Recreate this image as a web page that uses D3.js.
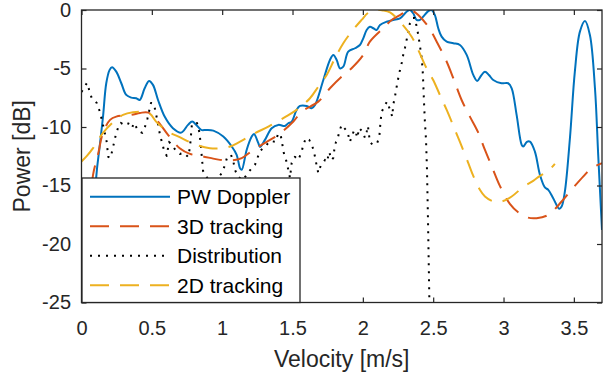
<!DOCTYPE html>
<html>
<head>
<meta charset="utf-8">
<script src="https://cdn.jsdelivr.net/npm/d3@7"></script>
<style>
  html, body { margin: 0; padding: 0; background: #fff; }
  svg { display: block; font-family: "Liberation Sans", Arial, Helvetica, sans-serif; }
</style>
</head>
<body>
<svg id="chart" width="603" height="378"></svg>
<script>
// ---- data ----
const xTicks = [0, 0.5, 1, 1.5, 2, 2.5, 3, 3.5];
const xTickLabels = ["0", "0.5", "1", "1.5", "2", "2.5", "3", "3.5"];
const yTicks = [-25, -20, -15, -10, -5, 0];
const yTickLabels = ["-25", "-20", "-15", "-10", "-5", "0"];
const seriesNames = ["PW Doppler", "3D tracking", "Distribution", "2D tracking"];

const pwX = [0.070,0.105,0.129,0.153,0.176,0.200,0.217,0.247,0.283,0.318,0.354,0.389,0.414,0.449,0.480,0.508,0.544,0.591,0.650,0.709,0.757,0.787,0.816,0.851,0.887,0.937,1.008,1.068,1.103,1.127,1.139,1.174,1.210,1.226,1.257,1.269,1.304,1.352,1.399,1.446,1.470,1.494,1.529,1.553,1.601,1.636,1.660,1.719,1.766,1.790,1.814,1.837,1.861,1.896,1.944,1.979,2.003,2.027,2.050,2.074,2.098,2.122,2.169,2.216,2.264,2.311,2.335,2.358,2.382,2.406,2.429,2.465,2.489,2.512,2.536,2.560,2.596,2.643,2.690,2.738,2.785,2.813,2.839,2.868,2.896,2.927,2.986,3.033,3.058,3.093,3.129,3.140,3.166,3.188,3.223,3.259,3.294,3.318,3.353,3.396,3.413,3.436,3.472,3.507,3.543,3.579,3.614,3.650,3.673,3.700];
const pwY = [-24.0,-14.24,-11.67,-9.11,-6.26,-5.12,-4.89,-5.27,-6.26,-7.26,-7.49,-7.54,-7.69,-6.69,-6.06,-6.40,-7.69,-9.11,-10.10,-10.48,-9.82,-9.54,-9.82,-10.25,-10.25,-10.31,-10.82,-11.67,-12.38,-13.52,-13.66,-11.96,-10.82,-10.59,-11.38,-11.72,-11.10,-10.10,-9.82,-9.91,-9.68,-9.54,-8.54,-8.20,-8.20,-8.39,-8.11,-5.98,-4.27,-3.84,-4.27,-4.98,-4.84,-3.56,-3.27,-2.99,-2.42,-1.71,-1.43,-1.56,-1.71,-1.28,-1.00,-0.85,-0.71,-0.15,0.0,-0.28,-0.85,-0.85,-0.57,-0.09,0.0,-0.43,-1.56,-2.28,-2.71,-2.84,-2.99,-3.84,-5.55,-6.06,-5.64,-5.27,-5.55,-5.98,-6.26,-6.26,-6.69,-8.97,-11.53,-11.67,-11.27,-11.25,-12.10,-14.09,-15.17,-15.37,-16.08,-16.99,-16.80,-15.52,-10.96,-5.27,-1.85,-0.94,-2.13,-6.69,-12.38,-18.8];

const tdX = [0.040,0.082,0.117,0.153,0.203,0.247,0.354,0.416,0.475,0.544,0.615,0.698,0.771,0.842,0.913,0.984,1.070,1.139,1.221,1.340,1.399,1.506,1.565,1.683,1.766,1.849,1.920,2.003,2.050,2.145,2.205,2.264,2.323,2.356,2.394,2.465,2.525,2.596,2.643,2.702,2.761,2.818,2.868,2.918,2.974,3.045,3.104,3.166,3.235,3.318,3.413,3.472,3.566,3.626,3.700];
const tdY = [-20.0,-14.09,-12.38,-10.50,-9.39,-9.11,-8.97,-8.80,-8.77,-9.54,-10.67,-11.81,-12.30,-12.47,-12.64,-12.81,-12.85,-12.66,-11.96,-11.10,-10.67,-9.53,-8.69,-7.83,-6.69,-5.70,-4.98,-3.84,-2.71,-1.56,-0.85,-0.43,-0.04,-0.09,-0.43,-1.43,-2.71,-4.42,-5.83,-7.69,-9.11,-10.42,-11.96,-13.41,-15.03,-16.57,-17.29,-17.72,-17.79,-17.51,-16.37,-15.52,-14.24,-13.52,-13.10];

const distX = [0.000,0.039,0.072,0.108,0.131,0.153,0.179,0.190,0.208,0.219,0.233,0.245,0.262,0.279,0.304,0.321,0.340,0.359,0.373,0.404,0.432,0.451,0.468,0.494,0.515,0.534,0.558,0.586,0.606,0.622,0.643,0.672,0.700,0.729,0.757,0.771,0.785,0.821,0.839,0.849,0.864,0.885,0.928,0.970,0.999,1.020,1.034,1.063,1.080,1.091,1.112,1.148,1.183,1.212,1.233,1.269,1.304,1.340,1.380,1.397,1.414,1.425,1.436,1.458,1.470,1.482,1.494,1.517,1.541,1.565,1.576,1.596,1.619,1.636,1.647,1.660,1.672,1.683,1.700,1.716,1.731,1.745,1.761,1.778,1.790,1.797,1.809,1.819,1.832,1.849,1.880,1.896,1.908,1.920,1.939,1.951,1.960,1.974,1.999,2.015,2.027,2.036,2.050,2.070,2.086,2.102,2.117,2.122,2.127,2.134,2.157,2.173,2.193,2.209,2.216,2.228,2.240,2.252,2.264,2.276,2.287,2.299,2.311,2.323,2.335,2.354,2.370,2.394,2.406,2.418,2.425,2.429,2.434,2.441,2.449,2.456,2.463,2.473];
const distY = [-7.00,-6.23,-7.51,-7.94,-8.71,-9.82,-11.27,-12.55,-12.64,-11.96,-11.27,-10.59,-9.99,-9.65,-9.82,-9.65,-9.74,-10.08,-9.65,-10.33,-10.50,-9.99,-9.31,-7.94,-8.03,-9.14,-10.67,-11.96,-12.47,-11.27,-11.53,-12.04,-12.30,-12.21,-12.55,-11.78,-9.74,-9.65,-10.50,-11.70,-13.75,-14.18,-15.03,-14.35,-13.92,-13.24,-12.64,-12.38,-12.98,-13.66,-14.26,-14.52,-13.92,-13.49,-13.24,-12.04,-11.70,-11.19,-11.27,-10.59,-10.59,-11.27,-12.13,-12.98,-13.66,-14.35,-13.07,-12.55,-12.81,-12.13,-11.53,-10.93,-11.10,-11.53,-11.87,-12.55,-13.32,-13.92,-13.32,-13.15,-12.81,-12.98,-12.13,-12.81,-12.64,-11.96,-11.27,-11.10,-10.42,-9.82,-10.25,-10.67,-11.27,-10.85,-10.25,-10.50,-10.93,-10.08,-10.42,-10.93,-10.42,-9.91,-11.27,-11.53,-11.44,-11.36,-10.85,-10.08,-9.39,-8.71,-8.11,-7.83,-8.54,-9.11,-8.11,-7.43,-6.58,-5.81,-5.12,-4.53,-3.84,-3.25,-2.56,-1.88,-1.11,-0.68,-0.68,-2.13,-3.07,-4.10,-5.12,-6.15,-7.69,-9.56,-11.10,-13.66,-17.93,-24.94];

const twX = [0.000,0.040,0.082,0.153,0.224,0.295,0.366,0.437,0.487,0.532,0.615,0.698,0.816,0.913,1.043,1.127,1.233,1.328,1.446,1.529,1.624,1.683,1.743,1.802,1.861,1.920,1.991,2.036,2.086,2.143,2.193,2.264,2.347,2.394,2.453,2.500,2.560,2.596,2.655,2.690,2.749,2.785,2.832,2.868,2.925,2.986,3.058,3.140,3.211,3.259,3.318,3.365];
const twY = [-12.95,-12.45,-11.81,-10.50,-9.60,-8.97,-8.74,-8.71,-8.88,-9.56,-10.39,-10.87,-11.53,-11.81,-11.72,-11.25,-10.53,-9.97,-9.16,-8.54,-7.54,-6.55,-5.55,-4.12,-2.84,-1.85,-0.85,-0.26,0.0,-0.04,-0.21,-1.00,-2.28,-3.42,-4.98,-5.98,-7.60,-8.54,-10.25,-11.27,-13.07,-14.18,-15.37,-15.94,-16.35,-16.37,-15.94,-15.12,-14.60,-14.18,-13.75,-13.15];

// ---- layout ----
const W = 603, H = 378;
const L = 81.5, R = 602, T = 10, B = 302.5;
const axisColor = "#262626";
const x = d3.scaleLinear().domain([0, 3.7]).range([L, R]);
const y = d3.scaleLinear().domain([-25, 0]).range([B, T]);

const svg = d3.select("#chart");

svg.append("defs").append("clipPath").attr("id", "plotclip")
  .append("rect").attr("x", L).attr("y", T).attr("width", R - L).attr("height", B - T);

const zip = (xs, ys) => xs.map((v, i) => [v, ys[i]]);

const series = [
  { name: seriesNames[0], data: zip(pwX, pwY), color: "#0072BD", dash: null, curve: d3.curveCatmullRom.alpha(0.5) },
  { name: seriesNames[1], data: zip(tdX, tdY), color: "#D95319", dash: "19,11", curve: d3.curveCatmullRom.alpha(0.5) },
  { name: seriesNames[2], data: zip(distX, distY), color: "#000000", dash: "2,6", curve: d3.curveLinear },
  { name: seriesNames[3], data: zip(twX, twY), color: "#EDB120", dash: "19,11", curve: d3.curveCatmullRom.alpha(0.5) }
];

const plot = svg.append("g").attr("clip-path", "url(#plotclip)");
series.forEach(s => {
  const line = d3.line().x(d => x(d[0])).y(d => y(d[1])).curve(s.curve);
  plot.append("path")
    .attr("d", line(s.data))
    .attr("fill", "none")
    .attr("stroke", s.color)
    .attr("stroke-width", 2)
    .attr("stroke-dasharray", s.dash)
    .attr("stroke-linejoin", "round");
});

// ---- axes ----
const xAxis = d3.axisBottom(x).tickValues(xTicks).tickFormat((d, i) => xTickLabels[i]).tickSize(-5).tickPadding(18);
const gx = svg.append("g").attr("transform", `translate(0,${B})`).call(xAxis);
const xTop = d3.axisTop(x).tickValues(xTicks).tickFormat("").tickSize(-5);
const gxt = svg.append("g").attr("transform", `translate(0,${T})`).call(xTop);
const yAxis = d3.axisLeft(y).tickValues(yTicks).tickFormat((d, i) => yTickLabels[i]).tickSize(-5).tickPadding(10.5);
const gy = svg.append("g").attr("transform", `translate(${L},0)`).call(yAxis);
const yRight = d3.axisRight(y).tickValues(yTicks).tickFormat("").tickSize(-5);
const gyr = svg.append("g").attr("transform", `translate(${R},0)`).call(yRight);

[gx, gxt, gy, gyr].forEach(g => {
  g.select(".domain").remove();
  g.selectAll(".tick line").attr("stroke", axisColor).attr("stroke-width", 1.2);
  g.selectAll(".tick text").attr("fill", axisColor).style("font-size", "20px")
    .style("font-family", "'Liberation Sans', Arial, sans-serif");
});

svg.append("rect").attr("x", L).attr("y", T).attr("width", R - L).attr("height", B - T)
  .attr("fill", "none").attr("stroke", axisColor).attr("stroke-width", 1.3);

// axis labels
svg.append("text").attr("x", (L + R) / 2).attr("y", 366.5).attr("text-anchor", "middle")
  .attr("fill", axisColor).style("font-size", "23px").text("Velocity [m/s]");
svg.append("text").attr("transform", `translate(29.5,${(T + B) / 2}) rotate(-90)`).attr("text-anchor", "middle")
  .attr("fill", axisColor).style("font-size", "23px").text("Power [dB]");

// ---- legend ----
const lg = svg.append("g");
lg.append("rect").attr("x", 82).attr("y", 178).attr("width", 218).attr("height", 124.5)
  .attr("fill", "#fff").attr("stroke", axisColor).attr("stroke-width", 1.3);
const rowY = [196.7, 226.2, 255.8, 285.3];
series.forEach((s, i) => {
  lg.append("line").attr("x1", 90).attr("x2", 170).attr("y1", rowY[i]).attr("y2", rowY[i])
    .attr("stroke", s.color).attr("stroke-width", 2).attr("stroke-dasharray", s.dash);
  lg.append("text").attr("x", 177).attr("y", rowY[i] + 7.5).attr("fill", "#000")
    .style("font-size", "21px").text(s.name);
});
</script>
</body>
</html>
